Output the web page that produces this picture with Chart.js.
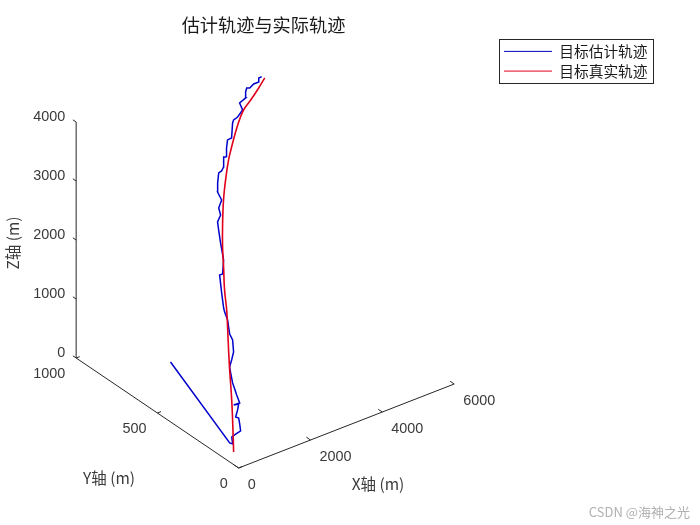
<!DOCTYPE html>
<html>
<head>
<meta charset="utf-8">
<script src="https://cdn.jsdelivr.net/npm/chart.js@4"></script>
<style>
body { margin: 0; background: #fff; }
</style>
</head>
<body>
<canvas id="grafico" width="700" height="525"></canvas>
<script>
//datos
const xReal = [330, 594, 797, 1052, 1230, 1405, 1580, 1738, 1942, 2117, 2349, 2592, 2821, 3067, 3303, 3566, 3816, 4037, 4295, 4499];
const yReal = [104, 168, 219, 288, 334, 378, 423, 471, 522, 567, 618, 666, 704, 740, 767, 794, 813, 818, 826, 834];
const zReal = [0, 309, 555, 875, 1088, 1301, 1515, 1728, 1973, 2187, 2443, 2688, 2901, 3115, 3296, 3488, 3648, 3755, 3883, 3989];

const xEst = [84, 347, 390, 440, 511, 656, 707, 746, 704, 807, 882, 785, 911, 936, 957, 980, 1040, 1083, 1184, 1297, 1397, 1401, 1452, 1502, 1524, 1545, 1657, 1795, 1856, 2010, 2121, 2212, 2272, 2393, 2426, 2557, 2562, 2650, 2765, 2836, 2910, 3007, 3060, 3146, 3242, 3332, 3496, 3542, 3641, 3798, 3813, 3969, 4026, 4083, 4136, 4246, 4353, 4392, 4464];
const yEst = [438, 132, 123, 140, 138, 133, 150, 165, 174, 185, 195, 204, 195, 219, 236, 254, 279, 295, 305, 318, 346, 365, 383, 400, 423, 434, 471, 514, 509, 537, 580, 612, 632, 640, 659, 670, 696, 715, 734, 732, 736, 757, 750, 770, 785, 780, 810, 814, 811, 815, 837, 834, 847, 853, 846, 846, 839, 847, 845];
const zEst = [960, 96, 85, 160, 181, 224, 299, 363, 373, 448, 512, 501, 523, 608, 672, 736, 843, 907, 981, 1067, 1195, 1259, 1333, 1408, 1493, 1536, 1696, 1888, 1899, 2048, 2229, 2368, 2453, 2528, 2603, 2688, 2773, 2869, 2976, 2997, 3040, 3147, 3147, 3243, 3328, 3349, 3509, 3541, 3573, 3648, 3723, 3776, 3840, 3883, 3883, 3925, 3947, 3989, 4000];

const ticksX = [0, 2000, 4000, 6000];
const ticksY = [0, 500, 1000];
const ticksZ = [0, 1000, 2000, 3000, 4000];

const titulo = '估计轨迹与实际轨迹';
const nombreEst = '目标估计轨迹';
const nombreReal = '目标真实轨迹';

const fuenteNum = '14.4px "Liberation Sans"';
const fuenteCjk = '15.5px "Noto Sans CJK SC"';
const grisTexto = '#3a3a3a';

//vista 3D de la camara (ortogonal)
function proyectar(x, y, z) {
    return { x: x * 0.0358 - y * 0.162, y: x * 0.014 + y * 0.11 + z * 0.059 };
}

function serie(xs, ys, zs) {
    return xs.map((v, i) => proyectar(v, ys[i], zs[i]));
}

//ejes con sus marcas, con null para cortar la linea
function ejes() {
    const puntos = [
        proyectar(6000, 0, 0), proyectar(0, 0, 0), proyectar(0, 1000, 0), proyectar(0, 1000, 4000), null
    ];
    ticksX.forEach(v => puntos.push(proyectar(v, 0, 0), proyectar(v, 25, 0), null));
    ticksY.forEach(v => puntos.push(proyectar(0, v, 0), proyectar(100, v, 0), null));
    ticksZ.forEach(v => puntos.push(proyectar(0, 1000, v), proyectar(0, 1020, v), null));
    return puntos.map(p => p === null ? { x: null, y: null } : p);
}

const textos = {
    id: 'textos',
    afterDraw(chart) {
        const ctx = chart.ctx;
        const sx = chart.scales.x;
        const sy = chart.scales.y;
        const pos = (x, y, z) => {
            const p = proyectar(x, y, z);
            return [sx.getPixelForValue(p.x), sy.getPixelForValue(p.y)];
        };
        ctx.save();
        ctx.fillStyle = grisTexto;
        ctx.textBaseline = 'middle';
        ctx.font = fuenteNum;

        ctx.textAlign = 'left';
        ticksX.forEach(v => {
            const [a, b] = pos(v, 0, 0);
            ctx.fillText(String(v), a + 9, b + 17);
        });
        ctx.textAlign = 'right';
        ticksY.forEach(v => {
            const [a, b] = pos(0, v, 0);
            ctx.fillText(String(v), a - 11, b + 16);
        });
        ticksZ.forEach(v => {
            const [a, b] = pos(0, 1000, v);
            ctx.fillText(String(v), a - 11, b - 5);
        });

        ctx.textAlign = 'center';
        ctx.font = fuenteCjk;
        ctx.fillText('X轴 (m)', 378, 484);
        ctx.fillText('Y轴 (m)', 109, 478);
        ctx.save();
        ctx.translate(13, 243);
        ctx.rotate(-Math.PI / 2);
        ctx.fillText('Z轴 (m)', 0, 0);
        ctx.restore();

        //marca de agua
        ctx.textAlign = 'right';
        ctx.fillStyle = '#b0b0b0';
        ctx.font = '13px "Noto Sans CJK SC"';
        ctx.fillText('CSDN @海神之光', 690, 512);

        //marco de la leyenda
        const cajas = chart.legend.legendHitBoxes;
        const ult = cajas[cajas.length - 1];
        ctx.strokeStyle = '#262626';
        ctx.lineWidth = 1;
        ctx.strokeRect(
            Math.round(cajas[0].left - 5) + 0.5,
            Math.round(cajas[0].top - 5) + 0.5,
            Math.round(cajas[0].width + 11),
            Math.round(ult.top + ult.height - cajas[0].top + 10)
        );
        ctx.restore();
    }
};

const grafico = new Chart(document.getElementById('grafico').getContext('2d'), {
    type: 'scatter',
    data: {
        datasets: [
            { label: nombreEst, data: serie(xEst, yEst, zEst), showLine: true, borderColor: '#0000cc', borderWidth: 1.5, pointRadius: 0, order: 2 },
            { label: nombreReal, data: serie(xReal, yReal, zReal), showLine: true, tension: 0.4, borderColor: '#e0001c', borderWidth: 1.6, pointRadius: 0, order: 1 },
            { label: 'ejes', data: ejes(), showLine: true, spanGaps: false, borderColor: '#262626', borderWidth: 1, pointRadius: 0, order: 3 }
        ]
    },
    options: {
        responsive: false,
        animation: false,
        layout: { padding: { left: 28, right: 42.5, bottom: 15, top: 0 } },
        scales: {
            x: { type: 'linear', display: false, min: -210, max: 259.5 },
            y: { type: 'linear', display: false, min: -42, max: 429 }
        },
        plugins: {
            tooltip: { enabled: false },
            title: {
                display: true,
                text: titulo,
                color: '#1a1a1a',
                fullSize: false,
                font: { family: '"Noto Sans CJK SC"', size: 18.2, weight: 'normal' },
                padding: { top: 14, bottom: 3.2 }
            },
            legend: {
                position: 'right',
                align: 'start',
                fullSize: false,
                labels: {
                    usePointStyle: true,
                    pointStyle: 'line',
                    pointStyleWidth: 48,
                    padding: 5,
                    color: '#1a1a1a',
                    font: { family: '"Noto Sans CJK SC"', size: 14.7 },
                    filter: item => item.text !== 'ejes',
                    sort: (a, b) => a.datasetIndex - b.datasetIndex,
                    generateLabels: chart => Chart.defaults.plugins.legend.labels.generateLabels(chart)
                        .map(item => ({ ...item, lineWidth: 1 }))
                }
            }
        }
    },
    plugins: [textos]
});
</script>
</body>
</html>
